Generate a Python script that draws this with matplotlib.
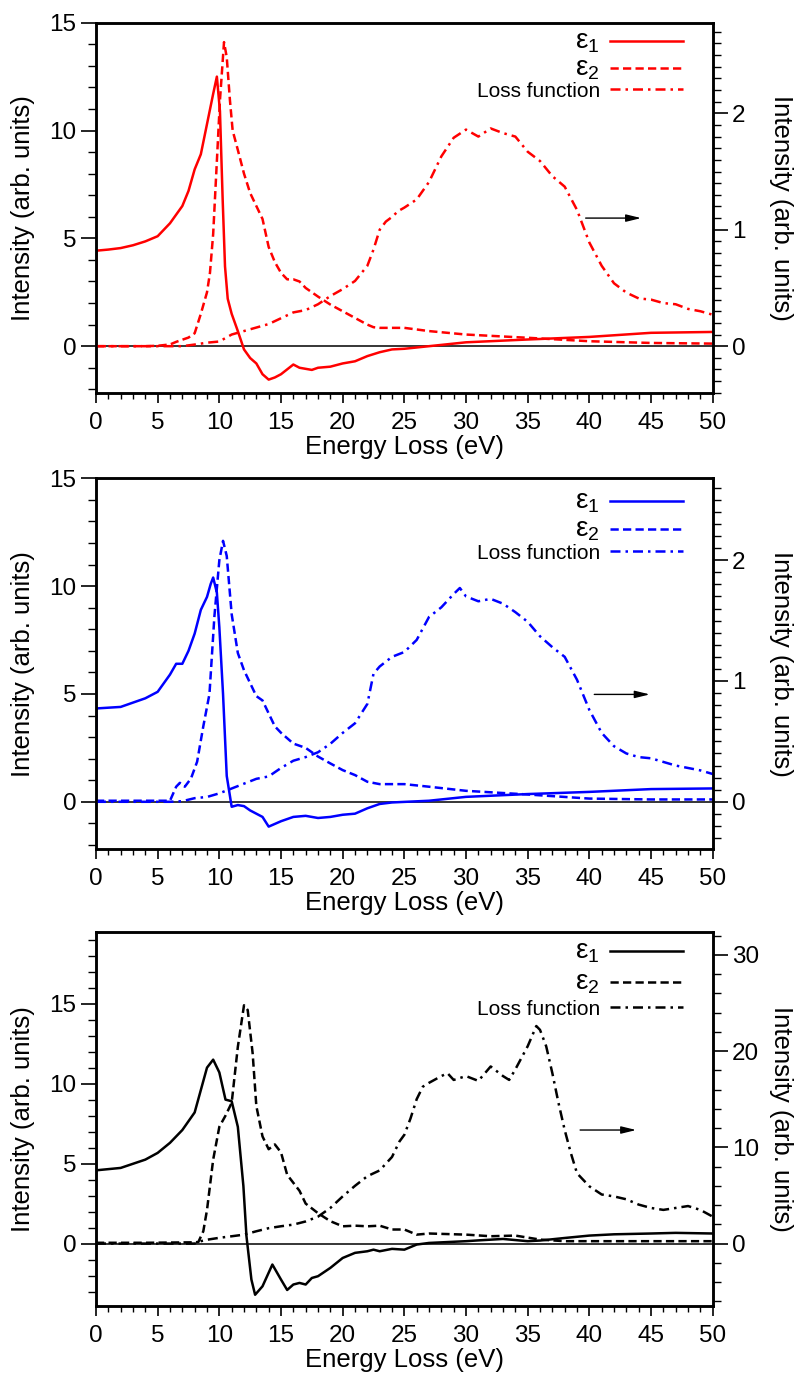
import matplotlib
matplotlib.use('Agg')
import matplotlib.pyplot as plt
from matplotlib.ticker import MultipleLocator

plt.rcParams['font.family'] = ['Liberation Sans', 'DejaVu Sans']
plt.rcParams['mathtext.fontset'] = 'custom'
plt.rcParams['mathtext.rm'] = 'Liberation Sans'
plt.rcParams['mathtext.it'] = 'Liberation Sans:italic'

# ---- panel 1 (red) ----
e1_x_1 = [0, 0.05, 1, 2, 3, 4, 5, 6, 7, 7.5, 8, 8.5, 9, 9.5, 9.8, 10.05, 10.27, 10.46, 10.68, 11, 11.5,
          12, 12.5, 13, 13.5, 14, 14.5, 15, 16, 16.5, 17.5, 18, 19, 20, 21, 22, 23, 24, 25, 27, 30,
          35, 40, 45, 50]
e1_y_1 = [2.3, 4.43, 4.48, 4.55, 4.68, 4.86, 5.1, 5.7, 6.5, 7.2, 8.2, 8.9, 10.3, 11.7, 12.5, 10.9, 6.8,
          3.7, 2.2, 1.5, 0.7, -0.15, -0.55, -0.8, -1.3, -1.55, -1.45, -1.3, -0.85, -1.0, -1.1, -1.0,
          -0.95, -0.8, -0.7, -0.46, -0.28, -0.15, -0.12, 0.0, 0.18, 0.31, 0.43, 0.62, 0.66]
e2_x_1 = [0, 2, 4, 5, 6, 6.5, 7, 7.5, 8, 8.5, 9, 9.24, 9.5, 10.05, 10.38, 10.6, 10.86, 11.08, 11.5, 12,
          12.5, 13, 13.5, 14, 14.5, 15, 15.5, 16, 16.5, 17, 18, 19, 20, 21, 22, 22.5, 23, 25, 27, 30,
          35, 40, 45, 50]
e2_y_1 = [0, 0, 0, 0.02, 0.08, 0.2, 0.3, 0.4, 0.6, 1.5, 2.5, 3.4, 5.2, 11.4, 14.1, 13.4, 11.4, 10.0,
          9.1, 8.0, 7.1, 6.5, 5.9, 4.6, 3.9, 3.4, 3.1, 3.1, 3.0, 2.7, 2.3, 1.93, 1.62, 1.31, 1.0, 0.88,
          0.85, 0.85, 0.7, 0.54, 0.39, 0.23, 0.15, 0.12]
lf_x_1 = [0, 5, 7, 8, 9, 10, 11, 12, 13, 14, 15, 16, 17, 18, 19, 20, 21, 22, 22.5, 23, 23.5, 24, 24.5,
          25, 26, 27, 28, 29, 30, 31, 32, 33, 34, 35, 36, 37, 38, 39, 40, 41, 42, 43, 44, 45, 46, 47,
          48, 49, 50]
lf_y_1 = [0, 0, 0, 0.014, 0.03, 0.04, 0.1, 0.13, 0.16, 0.19, 0.24, 0.29, 0.31, 0.36, 0.43, 0.49, 0.56,
          0.69, 0.83, 1.0, 1.07, 1.11, 1.16, 1.19, 1.26, 1.41, 1.63, 1.79, 1.86, 1.8, 1.87, 1.83, 1.8,
          1.67, 1.59, 1.46, 1.37, 1.17, 0.89, 0.69, 0.54, 0.46, 0.41, 0.40, 0.37, 0.36, 0.32, 0.30, 0.27]

# ---- panel 2 (blue) ----
e1_x_2 = [0, 0.05, 2, 4, 5, 6, 6.5, 7, 7.5, 8, 8.5, 9, 9.3, 9.5, 9.8, 10, 10.3, 10.6, 11, 11.5, 12,
          12.5, 13, 13.5, 14, 15, 16, 17, 18, 19, 20, 21, 22, 23, 24, 27, 30, 35, 40, 45, 50]
e1_y_2 = [0.3, 4.33, 4.4, 4.8, 5.1, 5.9, 6.4, 6.4, 7.0, 7.8, 8.9, 9.5, 10.1, 10.4, 9.7, 8.1, 5.0, 1.2,
          -0.23, -0.15, -0.2, -0.4, -0.55, -0.7, -1.15, -0.9, -0.7, -0.65, -0.75, -0.7, -0.6, -0.55,
          -0.3, -0.1, -0.03, 0.05, 0.23, 0.36, 0.46, 0.59, 0.62]
e2_x_2 = [0, 3, 6, 6.5, 6.8, 7.2, 7.7, 8.2, 8.7, 9.2, 9.6, 10, 10.3, 10.6, 11, 11.5, 12, 12.5, 13,
          13.5, 14, 14.5, 15, 16, 17, 18, 19, 20, 21, 22, 23, 25, 27, 30, 35, 40, 45, 50]
e2_y_2 = [0.05, 0.05, 0.05, 0.7, 0.88, 0.7, 1.08, 1.86, 3.5, 5.0, 8.6, 11.2, 12.1, 11.4, 8.7, 6.9, 6.1,
          5.5, 4.9, 4.7, 4.1, 3.5, 3.2, 2.7, 2.5, 2.1, 1.78, 1.47, 1.24, 0.93, 0.82, 0.82, 0.7, 0.51,
          0.34, 0.15, 0.11, 0.11]
lf_x_2 = [0, 6, 7, 8, 9, 10, 11, 12, 13, 14, 15, 16, 17, 18, 19, 20, 21, 22, 22.5, 23, 24, 25, 26, 27,
          28, 29, 29.5, 30, 31, 32, 33, 34, 35, 36, 37, 38, 39, 40, 41, 42, 43, 44, 45, 46, 47, 48, 49, 50]
lf_y_2 = [0, 0, 0.005, 0.03, 0.04, 0.07, 0.11, 0.15, 0.19, 0.21, 0.28, 0.34, 0.37, 0.41, 0.48, 0.57,
          0.65, 0.81, 1.06, 1.12, 1.2, 1.24, 1.34, 1.53, 1.61, 1.72, 1.77, 1.7, 1.66, 1.68, 1.64, 1.57,
          1.49, 1.37, 1.28, 1.2, 1.01, 0.76, 0.57, 0.46, 0.4, 0.37, 0.36, 0.33, 0.3, 0.28, 0.26, 0.23]

# ---- panel 3 (black) ----
e1_x_3 = [0, 2, 4, 5, 6, 7, 8, 8.5, 9, 9.5, 10, 10.5, 11, 11.5, 11.95, 12.2, 12.6, 12.9, 13.5, 14.3,
          15, 15.5, 16, 16.5, 17, 17.5, 18, 19, 20, 21, 22, 22.5, 23, 24, 25, 26, 27, 30, 31, 33, 35,
          36, 38, 40, 42, 45, 47, 50]
e1_y_3 = [4.58, 4.73, 5.25, 5.67, 6.3, 7.1, 8.2, 9.6, 11.0, 11.5, 10.7, 9.0, 8.9, 7.3, 3.6, 0.46,
          -2.25, -3.2, -2.67, -1.31, -2.25, -2.9, -2.56, -2.46, -2.56, -2.15, -2.04, -1.52, -0.9,
          -0.58, -0.48, -0.38, -0.48, -0.33, -0.38, -0.06, 0.04, 0.15, 0.2, 0.29, 0.15, 0.19, 0.35,
          0.5, 0.58, 0.63, 0.67, 0.63]
e2_x_3 = [0, 4, 8, 8.3, 8.7, 9, 9.5, 10, 10.5, 11, 11.5, 12, 12.3, 12.7, 13, 13.5, 14, 14.5, 15, 15.5,
          16, 16.5, 17, 17.5, 18, 19, 20, 21, 22, 23, 24, 25, 26, 27, 30, 32, 34, 36, 38, 40, 45, 50]
e2_y_3 = [0.05, 0.05, 0.08, 0.1, 0.77, 2.1, 5.25, 7.3, 8.0, 8.8, 12.3, 14.9, 14.6, 11.9, 8.6, 6.7, 5.9,
          6.2, 5.7, 4.3, 3.8, 3.3, 2.5, 2.2, 1.9, 1.4, 1.08, 1.12, 1.08, 1.12, 0.88, 0.88, 0.56, 0.63,
          0.56, 0.46, 0.5, 0.25, 0.15, 0.15, 0.15, 0.15]
lf_x_3 = [0, 8, 8.5, 9, 10, 11, 12, 13, 14, 15, 16, 17, 18, 19, 20, 21, 22, 23, 24, 24.6, 25, 25.5, 26,
          26.5, 27, 28, 28.5, 29, 30, 31, 32, 33, 33.5, 34, 35, 35.7, 36, 36.5, 37, 37.5, 38, 38.5, 39,
          40, 41, 42, 43, 44, 45, 46, 47, 48, 49, 50]
lf_y_3 = [0, 0, 0.25, 0.4, 0.6, 0.76, 0.93, 1.28, 1.6, 1.8, 1.97, 2.3, 2.8, 3.7, 4.9, 6.0, 7.0, 7.6,
          9.0, 10.6, 11.3, 13.0, 15.0, 16.3, 16.7, 17.4, 17.7, 17.0, 17.4, 16.9, 18.4, 17.4, 17.0, 18.1,
          20.5, 22.6, 22.2, 20.5, 17.7, 14.6, 11.8, 9.4, 7.3, 5.95, 5.1, 4.9, 4.6, 4.05, 3.7, 3.5, 3.7,
          3.9, 3.5, 2.8]

labels = ['ε$_1$', 'ε$_2$', 'Loss function']


def draw_panel(rect, color, e1, e2, lf, ylim, ylim2, minor2, major2, arrow, legend_y, rowgap):
    ax = fig.add_axes(rect)
    ax2 = ax.twinx()
    l1, = ax.plot(e1[0], e1[1], color=color, lw=1.8, ls='-')
    l2, = ax.plot(e2[0], e2[1], color=color, lw=1.8, ls=(0, (3.3, 1.7)))
    l3, = ax2.plot(lf[0], lf[1], color=color, lw=1.8, ls=(0, (4, 2, 1, 2)))
    ax.axhline(0, color='black', lw=1.1, zorder=0)

    ax.set_xlim(0, 50)
    ax.set_ylim(*ylim)
    ax2.set_ylim(*ylim2)
    ax.xaxis.set_major_locator(MultipleLocator(5))
    ax.xaxis.set_minor_locator(MultipleLocator(1))
    ax.yaxis.set_major_locator(MultipleLocator(5))
    ax.yaxis.set_minor_locator(MultipleLocator(1))
    ax2.yaxis.set_major_locator(MultipleLocator(major2))
    ax2.yaxis.set_minor_locator(MultipleLocator(minor2))

    for a in (ax, ax2):
        for s in a.spines.values():
            s.set_linewidth(1.8)
    ax.tick_params(axis='x', which='major', direction='out', length=7.5, width=1.2, labelsize=17.5, pad=6)
    ax.tick_params(axis='x', which='minor', direction='out', length=4, width=1.0)
    ax.tick_params(axis='y', which='major', direction='out', length=11, width=1.2, labelsize=17.5, pad=3)
    ax.tick_params(axis='y', which='minor', direction='out', length=6, width=1.0)
    ax2.tick_params(axis='y', which='major', direction='out', length=11, width=1.2, labelsize=17.5, pad=3)
    ax2.tick_params(axis='y', which='minor', direction='out', length=6, width=1.0)

    ax.set_xlabel('Energy Loss (eV)', fontsize=18.5, labelpad=1)
    ax.set_ylabel('Intensity (arb. units)', fontsize=18.5, va='bottom')
    ax.yaxis.set_label_coords(-0.099, 0.5)
    ax2.set_ylabel('Intensity (arb. units)', fontsize=18.5, rotation=270, va='bottom')
    ax2.yaxis.set_label_coords(1.091, 0.5)

    ax.annotate('', xy=(arrow[1], arrow[2]), xytext=(arrow[0], arrow[2]),
                arrowprops=dict(arrowstyle='-|>,head_length=0.9,head_width=0.22',
                                color='black', lw=1.0, shrinkA=0, shrinkB=0))

    leg = ax2.legend([l1, l2, l3], labels, loc='upper right', bbox_to_anchor=(0.952, legend_y),
                     markerfirst=False, frameon=False, fontsize=15, handlelength=3.5,
                     handletextpad=0.5, labelspacing=rowgap, borderpad=0, borderaxespad=0)
    for t in leg.get_texts()[:2]:
        t.set_fontsize(20)
    return ax, ax2


fig = plt.figure(figsize=(7.94, 13.76), dpi=100)

draw_panel([0.1209, 0.7144, 0.7767, 0.2691], 'red',
           (e1_x_1, e1_y_1), (e2_x_1, e2_y_1), (lf_x_1, lf_y_1),
           (-2.17, 15), (-0.402, 2.778), 0.1, 1, (39.7, 44.2, 5.94), 0.984, 0.0)
draw_panel([0.1209, 0.3828, 0.7767, 0.2696], 'blue',
           (e1_x_2, e1_y_2), (e2_x_2, e2_y_2), (lf_x_2, lf_y_2),
           (-2.2, 15), (-0.393, 2.678), 0.1, 1, (40.4, 44.9, 4.98), 0.972, 0.05)
draw_panel([0.1209, 0.0509, 0.7767, 0.2720], 'black',
           (e1_x_3, e1_y_3), (e2_x_3, e2_y_3), (lf_x_3, lf_y_3),
           (-3.9, 19.5), (-6.48, 32.4), 2, 10, (39.25, 43.8, 7.1), 0.982, 0.2)

fig.savefig('out.png', dpi=100)
